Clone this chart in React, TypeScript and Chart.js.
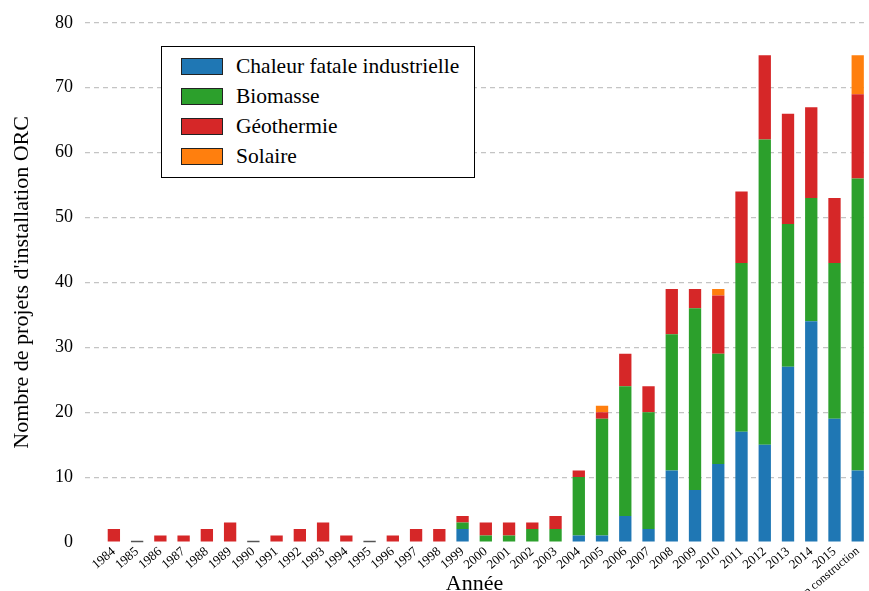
import React, { useEffect, useRef } from "react";
import { Chart, registerables } from "chart.js";

Chart.register(...registerables);

const years: string[] = [
  "1984", "1985", "1986", "1987", "1988", "1989", "1990", "1991", "1992", "1993",
  "1994", "1995", "1996", "1997", "1998", "1999", "2000", "2001", "2002", "2003",
  "2004", "2005", "2006", "2007", "2008", "2009", "2010", "2011", "2012", "2013",
  "2014", "2015", "en construction",
];

const chaleurFatale: number[] = [
  0, 0, 0, 0, 0, 0, 0, 0, 0, 0, 0, 0, 0, 0, 0, 2, 0, 0, 0, 0,
  1, 1, 4, 2, 11, 8, 12, 17, 15, 27, 34, 19, 11,
];
const biomasse: number[] = [
  0, 0, 0, 0, 0, 0, 0, 0, 0, 0, 0, 0, 0, 0, 0, 1, 1, 1, 2, 2,
  9, 18, 20, 18, 21, 28, 17, 26, 47, 22, 19, 24, 45,
];
const geothermie: number[] = [
  2, 0, 1, 1, 2, 3, 0, 1, 2, 3, 1, 0, 1, 2, 2, 1, 2, 2, 1, 2,
  1, 1, 5, 4, 7, 3, 9, 11, 13, 17, 14, 10, 13,
];
const solaire: number[] = [
  0, 0, 0, 0, 0, 0, 0, 0, 0, 0, 0, 0, 0, 0, 0, 0, 0, 0, 0, 0,
  0, 1, 0, 0, 0, 0, 1, 0, 0, 0, 0, 0, 6,
];

const seriesNames: string[] = ["Chaleur fatale industrielle", "Biomasse", "Géothermie", "Solaire"];
const seriesColors: string[] = ["#1f77b4", "#2ca02c", "#d62728", "#ff7f0e"];
const seriesValues: number[][] = [chaleurFatale, biomasse, geothermie, solaire];

const yTicks: number[] = [0, 10, 20, 30, 40, 50, 60, 70, 80];

const FONT = "'Liberation Serif', 'DejaVu Serif', serif";

const zeroMarkerPlugin = {
  id: "zeroMarker",
  afterDatasetsDraw(chart: any) {
    const xs = chart.scales.x;
    const ys = chart.scales.y;
    const meta = chart.getDatasetMeta(0);
    const ctx = chart.ctx;
    ctx.save();
    ctx.strokeStyle = "#555555";
    ctx.lineWidth = 1.5;
    years.forEach((_, i) => {
      const total = seriesValues.reduce((s, arr) => s + arr[i], 0);
      if (total === 0) {
        const el = meta.data[i];
        const w = el && el.width ? el.width : 12;
        const x = xs.getPixelForValue(i);
        const y = ys.getPixelForValue(0);
        ctx.beginPath();
        ctx.moveTo(x - w / 2, y - 0.5);
        ctx.lineTo(x + w / 2, y - 0.5);
        ctx.stroke();
      }
    });
    ctx.restore();
  },
};

export default function App() {
  const canvasRef = useRef<HTMLCanvasElement | null>(null);

  useEffect(() => {
    if (!canvasRef.current) return;
    const chart = new Chart(canvasRef.current, {
      type: "bar",
      data: {
        datasets: seriesNames.map((name, s) => ({
          label: name,
          data: seriesValues[s].map((v, i) => ({ x: i, y: v })),
          backgroundColor: seriesColors[s],
          borderWidth: 0,
          barPercentage: 0.53,
          categoryPercentage: 1,
        })),
      },
      options: {
        responsive: false,
        animation: false,
        devicePixelRatio: 1,
        layout: { padding: { top: 17.2, right: 0, left: 0, bottom: 0 } },
        plugins: {
          legend: { display: false },
          tooltip: { enabled: false },
        },
        scales: {
          x: {
            type: "linear",
            stacked: true,
            offset: false,
            min: -1.242,
            max: 32.266,
            grid: { display: false, drawTicks: false },
            border: { display: false },
            afterBuildTicks: (scale: any) => {
              scale.ticks = years.map((_, i) => ({ value: i }));
            },
            afterFit: (scale: any) => {
              scale.height = 49;
            },
            ticks: {
              autoSkip: false,
              minRotation: 40,
              maxRotation: 40,
              padding: 2,
              color: "#000",
              font: (ctx: any) => ({
                family: FONT,
                size: ctx.index === years.length - 1 ? 12 : 13,
              }),
              callback: (v: any) => years[Math.round(Number(v))] ?? "",
            },
            title: {
              display: true,
              text: "Année",
              color: "#000",
              font: { family: FONT, size: 22, lineHeight: 1 },
              padding: { top: 0, bottom: -4 },
            },
          },
          y: {
            type: "linear",
            stacked: true,
            min: 0,
            max: 80,
            afterBuildTicks: (scale: any) => {
              scale.ticks = yTicks.map((v) => ({ value: v }));
            },
            afterFit: (scale: any) => {
              scale.width = 85;
            },
            grid: {
              color: (ctx: any) => (ctx.tick && ctx.tick.value === 0 ? "rgba(0,0,0,0)" : "#c4c4c4"),
              lineWidth: 1.2,
              drawTicks: false,
            },
            border: { display: false, dash: [5, 4] },
            ticks: {
              color: "#000",
              padding: 12,
              font: { family: FONT, size: 18 },
            },
            title: {
              display: true,
              text: "Nombre de projets d'installation ORC",
              color: "#000",
              font: { family: FONT, size: 22 },
              padding: { top: 9, bottom: 0 },
            },
          },
        },
      },
      plugins: [zeroMarkerPlugin],
    } as any);
    return () => chart.destroy();
  }, []);

  return (
    <div style={{ position: "absolute", left: 0, top: 0, width: 869, height: 591, background: "#fff" }}>
      <canvas ref={canvasRef} width={869} height={591} style={{ display: "block" }} />
      <div
        style={{
          position: "absolute",
          left: 161,
          top: 46,
          width: 314,
          height: 132,
          boxSizing: "border-box",
          border: "1.5px solid #000",
          background: "#fff",
          fontFamily: FONT,
          fontSize: 21.5,
          color: "#000",
        }}
      >
        {seriesNames.map((name, s) => (
          <div key={name} style={{ position: "absolute", left: 19, top: 10 + s * 30, height: 18, display: "flex", alignItems: "center" }}>
            <span
              style={{
                display: "inline-block",
                width: 42,
                height: 17,
                boxSizing: "border-box",
                background: seriesColors[s],
                border: "1px solid #222",
              }}
            />
            <span style={{ marginLeft: 13, whiteSpace: "nowrap", lineHeight: "18px" }}>{name}</span>
          </div>
        ))}
      </div>
    </div>
  );
}
